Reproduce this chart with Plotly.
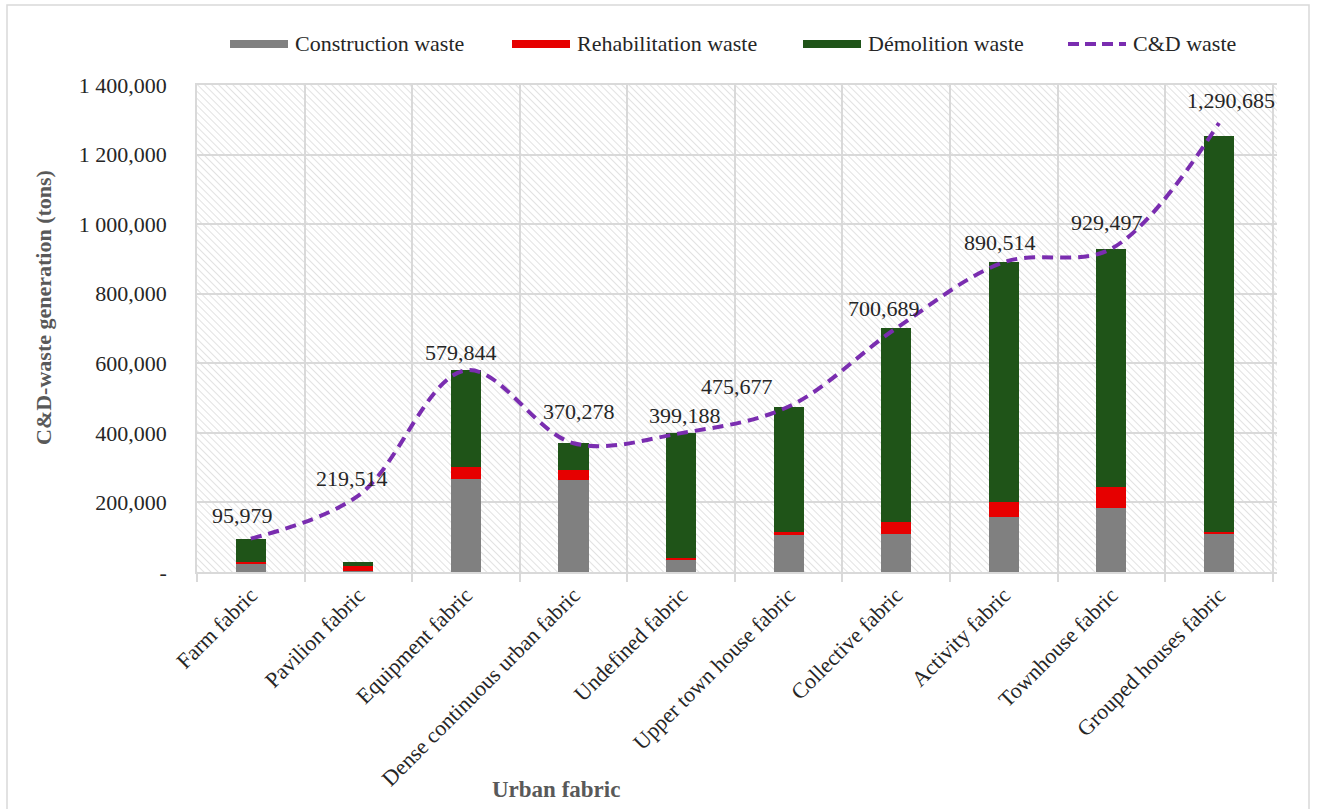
import base64
import plotly.graph_objects as go

categories = ["Farm fabric", "Pavilion fabric", "Equipment fabric",
              "Dense continuous urban fabric", "Undefined fabric",
              "Upper town house fabric", "Collective fabric", "Activity fabric",
              "Townhouse fabric", "Grouped houses fabric"]
construction = [22200, 3000, 267500, 264600, 35800, 106000, 109700, 158700, 183800, 109700]
rehabilitation = [6700, 15000, 35500, 28900, 4600, 7800, 32900, 43300, 59700, 4900]
demolition = [67000, 11000, 277000, 76800, 358800, 361900, 558000, 688500, 686000, 1138000]
cd_total = [95979, 219514, 579844, 370278, 399188, 475677, 700689, 890514, 929497, 1290685]
cd_labels = ["95,979", "219,514", "579,844", "370,278", "399,188", "475,677",
             "700,689", "890,514", "929,497", "1,290,685"]
y_tickvals = [0, 200000, 400000, 600000, 800000, 1000000, 1200000, 1400000]
y_ticktext = ["-", "200,000", "400,000", "600,000", "800,000", "1 000,000", "1 200,000", "1 400,000"]
series_names = ["Construction waste", "Rehabilitation waste", "Démolition waste", "C&D waste"]

# styles
COLORS = ["#808080", "#e60000", "#1f5418", "#7a2db0"]
FONT = "Liberation Serif, Times New Roman, serif"
GRID = "#d9d9d9"
TXT = "#262626"

# label offsets in pixels (style only)
label_dx = [-8, -6, -5, 5, 4, -52, -12, -4, -4, 12]
label_dy = [23, 17, 18, 32, 18, 20, 20, 20, 26, 23]

# plot area geometry
L, R, T, B = 197, 40, 85, 237
W, H = 1317, 809
PW, PH = W - L - R, H - T - B


def px_x(x):
    return (x - L) / PW


def px_y(y):
    return (H - B - y) / PH


fig = go.Figure()
for vals, name, col in zip([construction, rehabilitation, demolition], series_names[:3], COLORS[:3]):
    fig.add_bar(x=categories, y=vals, name=name, width=0.28,
                marker=dict(color=col, line=dict(width=0)))
fig.add_scatter(x=categories, y=cd_total, name=series_names[3], mode="lines",
                line=dict(color=COLORS[3], width=4, dash="11px,7px",
                          shape="spline", smoothing=1.0))

for c, v, t, dx, dy in zip(categories, cd_total, cd_labels, label_dx, label_dy):
    fig.add_annotation(x=c, y=v, text=t, showarrow=False, xshift=dx, yshift=dy,
                       xanchor="center", yanchor="middle",
                       font=dict(family=FONT, size=22, color=TXT))

# hatched background of the plot area
svg = f'''<svg xmlns="http://www.w3.org/2000/svg" width="{PW}" height="{PH}" viewBox="0 0 {PW} {PH}" preserveAspectRatio="none">
<defs><pattern id="h" patternUnits="userSpaceOnUse" width="5" height="5" patternTransform="rotate(-45)">
<line x1="0" y1="0" x2="0" y2="5" stroke="#cfcfcf" stroke-width="1.2"/></pattern></defs>
<rect width="{PW}" height="{PH}" fill="white"/><rect width="{PW}" height="{PH}" fill="url(#h)"/></svg>'''
src = "data:image/svg+xml;base64," + base64.b64encode(svg.encode()).decode()
fig.add_layout_image(source=src, xref="paper", yref="paper", x=0, y=1, sizex=1, sizey=1,
                     xanchor="left", yanchor="top", sizing="stretch", layer="below")

# legend (drawn as a guide row on top)
leg_x = [230, 512, 803, 1068]
leg_sym_w = 58
leg_y = 44
for i, (name, col, x0) in enumerate(zip(series_names, COLORS, leg_x)):
    if i < 3:
        fig.add_shape(type="rect", xref="paper", yref="paper",
                      x0=px_x(x0), x1=px_x(x0 + leg_sym_w), y0=px_y(leg_y + 4), y1=px_y(leg_y - 4),
                      fillcolor=col, line=dict(width=0))
    else:
        fig.add_shape(type="line", xref="paper", yref="paper",
                      x0=px_x(x0), x1=px_x(x0 + leg_sym_w), y0=px_y(leg_y), y1=px_y(leg_y),
                      line=dict(color=col, width=4, dash="11px,6px"))
    fig.add_annotation(xref="paper", yref="paper", x=px_x(x0 + leg_sym_w + 5), y=px_y(leg_y),
                       text=name, showarrow=False, xanchor="left", yanchor="middle",
                       font=dict(family=FONT, size=22, color=TXT))

# axis titles
fig.add_annotation(xref="paper", yref="paper", x=px_x(43), y=px_y(308),
                   text="<b>C&D-waste generation (tons)</b>", textangle=-90, showarrow=False,
                   xanchor="center", yanchor="middle",
                   font=dict(family=FONT, size=22, color="#595959"))
fig.add_annotation(xref="paper", yref="paper", x=px_x(556), y=px_y(790),
                   text="<b>Urban fabric</b>", showarrow=False,
                   xanchor="center", yanchor="middle",
                   font=dict(family=FONT, size=23, color="#595959"))

# outer frame
fig.add_shape(type="rect", xref="paper", yref="paper",
              x0=px_x(7), x1=px_x(1309), y0=px_y(815), y1=px_y(5),
              line=dict(color="#d9d9d9", width=1.5), fillcolor="rgba(0,0,0,0)", layer="below")

fig.update_layout(
    width=W, height=H, barmode="stack",
    margin=dict(l=L, r=R, t=T, b=B),
    paper_bgcolor="white", plot_bgcolor="white",
    font=dict(family=FONT, size=22, color=TXT),
    showlegend=False,
)
fig.update_xaxes(type="category", tickangle=-45, tickson="boundaries", showgrid=True,
                 gridcolor=GRID, gridwidth=1.5, showline=True, linecolor=GRID, linewidth=1.5,
                 mirror=True, ticks="outside", ticklen=8, tickcolor=GRID, tickwidth=1.5,
                 tickfont=dict(family=FONT, size=22, color=TXT))
fig.update_yaxes(range=[0, 1400000], tickvals=y_tickvals, ticktext=y_ticktext,
                 showgrid=True, gridcolor=GRID, gridwidth=1.5, zeroline=False,
                 showline=True, linecolor=GRID, linewidth=1.5,
                 ticks="outside", ticklen=24, tickcolor="rgba(0,0,0,0)",
                 tickfont=dict(family=FONT, size=22, color=TXT))

fig.write_html("out.html")
